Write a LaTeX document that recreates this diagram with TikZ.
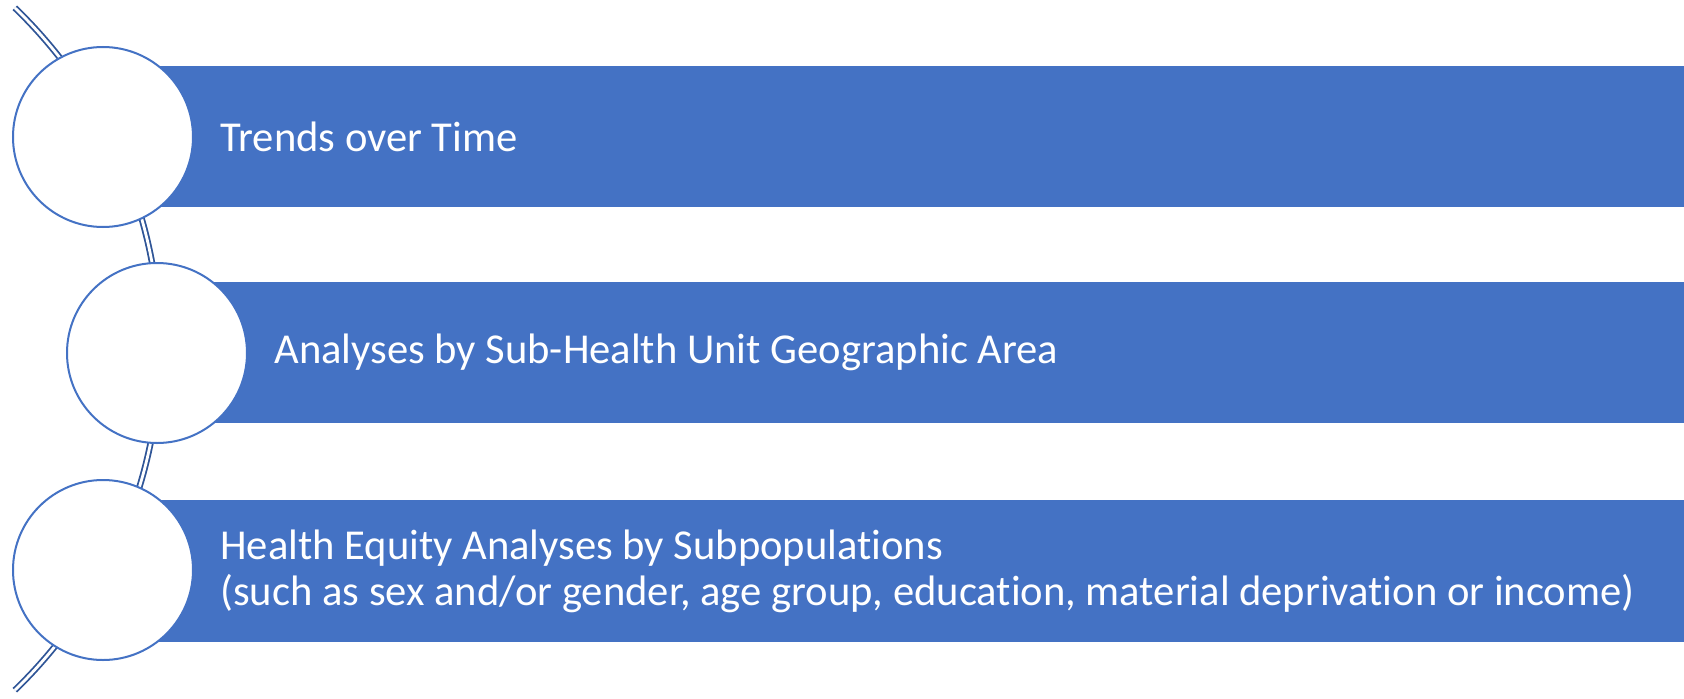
\documentclass[tikz,border=0pt]{standalone}
\usepackage{fontspec}
\setmainfont{Carlito}[Ligatures=NoCommon]
\definecolor{barblue}{HTML}{4472C4}
\definecolor{arcblue}{HTML}{2F5597}

\begin{document}
\begin{tikzpicture}[x=0.5pt,y=0.5pt,
  bar/.style={fill=barblue},
  bubble/.style={circle,draw=barblue,line width=1pt,fill=white,minimum size=90pt,inner sep=0pt},
  label/.style={anchor=west,text=white,font=\fontsize{21.3}{23}\selectfont,align=left,inner sep=0pt}]
\useasboundingbox (0,0) rectangle (1684,698);

%lok v ozadju
\draw [arcblue,line width=0.9pt,double=white,double distance=1.4pt] (-313.5,349) ++(46.1:236.75pt) arc (46.1:-46.1:236.75pt);

%pasovi
\fill [bar] (103,632) rectangle (1684,491);
\fill [bar] (157,416) rectangle (1684,275);
\fill [bar] (103,198) rectangle (1684,56);

%krogi
\node [bubble] (c1) at (103,561) {};
\node [bubble] (c2) at (157,345) {};
\node [bubble] (c3) at (103,128) {};

%besedila
\node [label] (t1) at (220,561.5) {Trends over Time};
\node [label] (t2) at (274,345.5) {Analyses by Sub-Health Unit Geographic Area};
\node [label] (t3) at (220,127) {Health Equity Analyses by Subpopulations\\(such as sex and/or gender, age group, education, material deprivation or income)};

\end{tikzpicture}
\end{document}
